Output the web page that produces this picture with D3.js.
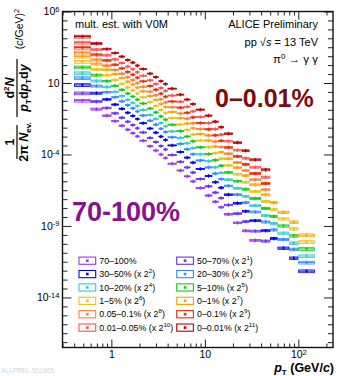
<!DOCTYPE html>
<html>
<head>
<meta charset="utf-8">
<script src="https://cdn.jsdelivr.net/npm/d3@7"></script>
<style>
  body { margin: 0; background: #fff; }
  text { font-family: "Liberation Sans", Arial, sans-serif; }
</style>
</head>
<body>
<div id="wrapper"></div>
<script>
// pT bin edges (GeV/c)
const ptEdges = [0.4, 0.6, 0.8, 1.0, 1.2, 1.4, 1.6, 1.8, 2.0, 2.4, 2.8, 3.2, 3.6, 4.0, 5.0, 6.0, 7.0, 8.0,
  10, 12, 14, 16, 20, 25, 30, 40, 50, 60, 80, 100, 150]

// relative systematic uncertainty per bin
const sysRel = [0.22, 0.16, 0.12, 0.1, 0.09, 0.08, 0.08, 0.08, 0.08, 0.08, 0.08, 0.08, 0.08, 0.08, 0.08,
  0.08, 0.09, 0.09, 0.1, 0.1, 0.11, 0.12, 0.13, 0.14, 0.15, 0.16, 0.17, 0.18, 0.2, 0.22]

// unscaled invariant yields, one array per V0M class
const yield_70_100 = [0.59, 0.149, 0.052, 0.0215, 0.0104, 5.5e-3, 3.1e-3, 1.85e-3, 9.2e-4, 3.8e-4, 1.9e-4, 1.0e-4,
  5.7e-5, 2.27e-5, 7.6e-6, 2.97e-6, 1.31e-6, 4.5e-7, 1.35e-7, 5.0e-8, 2.04e-8, 6.6e-9, 1.67e-9, 4.6e-10, 1.0e-10]
const yield_50_70 = [0.96, 0.251, 0.0895, 0.0379, 0.0187, 9.9e-3, 5.7e-3, 3.4e-3, 1.74e-3, 7.3e-4, 3.7e-4, 1.95e-4,
  1.12e-4, 4.6e-5, 1.55e-5, 6.2e-6, 2.74e-6, 9.6e-7, 2.96e-7, 1.09e-7, 4.5e-8, 1.47e-8, 3.7e-9, 1.02e-9, 2.2e-10, 4.4e-11]
const yield_30_50 = [1.82, 0.489, 0.178, 0.078, 0.0393, 0.021, 0.01245, 7.5e-3, 3.86e-3, 1.65e-3, 8.5e-4, 4.5e-4,
  2.6e-4, 1.08e-4, 3.7e-5, 1.51e-5, 6.8e-6, 2.45e-6, 7.8e-7, 2.88e-7, 1.19e-7, 3.9e-8, 9.7e-9, 2.69e-9, 5.9e-10,
  1.18e-10, 3.3e-11, 7.1e-12, 1.42e-12, 1.73e-13]
const yield_20_30 = [2.77, 0.766, 0.284, 0.127, 0.0653, 0.0352, 0.0212, 0.0128, 6.7e-3, 2.92e-3, 1.53e-3, 8.0e-4,
  4.7e-4, 2.0e-4, 7.0e-5, 2.87e-5, 1.31e-5, 4.8e-6, 1.56e-6, 5.8e-7, 2.39e-7, 7.96e-8, 1.96e-8, 5.4e-9, 1.2e-9,
  2.4e-10, 6.7e-11, 1.44e-11, 2.9e-12, 3.5e-13]
const yield_10_20 = [3.10, 0.871, 0.328, 0.150, 0.0778, 0.0423, 0.0258, 0.01556, 8.2e-3, 3.63e-3, 1.92e-3, 1.0e-3,
  5.9e-4, 2.57e-4, 9.1e-5, 3.77e-5, 1.73e-5, 6.4e-6, 2.13e-6, 7.9e-7, 3.27e-7, 1.09e-7, 2.69e-8, 7.4e-9, 1.66e-9,
  3.3e-10, 9.3e-11, 1.99e-11, 3.99e-12, 4.9e-13]
const yield_5_10 = [3.88, 1.12, 0.426, 0.199, 0.105, 0.0573, 0.0354, 0.0215, 0.01148, 5.14e-3, 2.75e-3, 1.44e-3,
  8.55e-4, 3.78e-4, 1.35e-4, 5.65e-5, 2.61e-5, 9.9e-6, 3.34e-6, 1.25e-6, 5.15e-7, 1.74e-7, 4.23e-8, 1.16e-8, 2.63e-9,
  5.25e-10, 1.48e-10, 3.16e-11, 6.4e-12, 7.8e-13]
const yield_1_5 = [4.75, 1.40, 0.541, 0.258, 0.138, 0.0759, 0.0476, 0.029, 0.01567, 7.11e-3, 3.85e-3, 2.02e-3,
  1.2e-3, 5.4e-4, 1.95e-4, 8.3e-5, 3.86e-5, 1.48e-5, 5.1e-6, 1.92e-6, 7.9e-7, 2.69e-7, 6.5e-8, 1.79e-8, 4.06e-9,
  8.1e-10, 2.29e-10, 4.9e-11, 9.9e-12, 1.2e-12]
const yield_0_1 = [5.6, 1.68, 0.659, 0.321, 0.173, 0.0962, 0.0612, 0.0373, 0.0204, 9.4e-3, 5.13e-3, 2.69e-3,
  1.62e-3, 7.4e-4, 2.69e-4, 1.15e-4, 5.4e-5, 2.11e-5, 7.4e-6, 2.81e-6, 1.15e-6, 3.95e-7, 9.5e-8, 2.61e-8, 5.97e-9,
  1.19e-9, 3.37e-10, 7.2e-11, 1.46e-11, 1.77e-12]
const yield_005_01 = [5.4, 1.63, 0.647, 0.320, 0.175, 0.0975, 0.0627, 0.0383, 0.0211, 9.8e-3, 5.4e-3, 2.83e-3,
  1.71e-3, 7.9e-4, 2.9e-4, 1.26e-4, 5.9e-5, 2.34e-5, 8.4e-6, 3.16e-6, 1.30e-6, 4.48e-7, 1.07e-7, 2.94e-8, 6.8e-9, 1.35e-9]
const yield_0_01 = [5.9, 1.85, 0.74, 0.372, 0.206, 0.116, 0.0752, 0.046, 0.0256, 0.01205, 6.7e-3, 3.52e-3,
  2.14e-3, 1.0e-3, 3.72e-4, 1.63e-4, 7.7e-5, 3.09e-5, 1.13e-5, 4.27e-6, 1.76e-6, 6.1e-7, 1.44e-7, 3.97e-8, 9.2e-9, 1.83e-9]
const yield_001_005 = [6.6, 2.10, 0.853, 0.438, 0.245, 0.138, 0.0912, 0.056, 0.0315, 0.015, 8.43e-3, 4.43e-3,
  2.7e-3, 1.29e-3, 4.83e-4, 2.13e-4, 1.02e-4, 4.14e-5, 1.54e-5, 5.83e-6, 2.4e-6, 8.4e-7, 1.97e-7, 5.4e-8, 1.26e-8, 2.52e-9]
const yield_0_001 = [8.7, 2.8, 1.16, 0.61, 0.345, 0.196, 0.131, 0.081, 0.046, 0.0222, 0.0126, 6.6e-3,
  4.1e-3, 1.98e-3, 7.5e-4, 3.4e-4, 1.63e-4, 6.7e-5, 2.55e-5, 9.7e-6, 4.0e-6, 1.4e-6, 3.3e-7, 9.0e-8, 2.1e-8, 4.2e-9]

const classLabels = ["70–100%", "50–70%", "30–50%", "20–30%", "10–20%", "5–10%", "1–5%", "0–1%",
  "0.05–0.1%", "0–0.1%", "0.01–0.05%", "0–0.01%"]
const scaleExp = [0, 1, 2, 3, 4, 5, 6, 7, 8, 9, 10, 11]
const classColors = ["#9933ff", "#6633ee", "#0000ee", "#3388ff", "#33cccc", "#11cc11", "#e8c31a", "#ffa200",
  "#ff7f3a", "#ee2a00", "#ff5050", "#c00000"]

const xMajorTicks = [1, 10, 100]
const xMinorTicks = [0.3, 0.4, 0.5, 0.6, 0.7, 0.8, 0.9, 2, 3, 4, 5, 6, 7, 8, 9, 20, 30, 40, 50, 60, 70, 80, 90, 200]
const yMajorExp = [6, 1, -4, -9, -14]

function drawSpectra() {
  const yields = [yield_70_100, yield_50_70, yield_30_50, yield_20_30, yield_10_20, yield_5_10, yield_1_5,
    yield_0_1, yield_005_01, yield_0_01, yield_001_005, yield_0_001]

  let dimensions = {
    width: 337,
    height: 376,
    margin: { top: 11.5, right: 4, bottom: 28.5, left: 62.5 },
  }
  dimensions.boundedWidth = dimensions.width - dimensions.margin.left - dimensions.margin.right
  dimensions.boundedHeight = dimensions.height - dimensions.margin.top - dimensions.margin.bottom

  const wrapper = d3.select("#wrapper")
    .append("svg")
      .attr("width", dimensions.width)
      .attr("height", dimensions.height)

  const bounds = wrapper.append("g")
      .attr("transform", `translate(${dimensions.margin.left},${dimensions.margin.top})`)

  const xScale = d3.scaleLog()
    .domain([0.3, 235])
    .range([0, dimensions.boundedWidth])

  const yScale = d3.scaleLog()
    .domain([Math.pow(10, -17.5), 1e6])
    .range([dimensions.boundedHeight, 0])

  bounds.append("clipPath").attr("id", "plotClip")
    .append("rect")
      .attr("width", dimensions.boundedWidth)
      .attr("height", dimensions.boundedHeight)

  // spectra
  const plot = bounds.append("g").attr("clip-path", "url(#plotClip)")
  yields.forEach((vals, i) => {
    const color = classColors[i]
    const f = Math.pow(2, scaleExp[i])
    const pts = vals.map((v, j) => ({ lo: ptEdges[j], hi: ptEdges[j + 1], y: v * f, s: sysRel[j] }))
    const g = plot.append("g")
    g.selectAll("rect.sys").data(pts).enter().append("rect")
      .attr("class", "sys")
      .attr("x", d => xScale(d.lo) + 0.4)
      .attr("width", d => xScale(d.hi) - xScale(d.lo) - 0.8)
      .attr("y", d => yScale(d.y * (1 + d.s)))
      .attr("height", d => yScale(d.y * (1 - d.s)) - yScale(d.y * (1 + d.s)))
      .attr("fill", "none")
      .attr("stroke", color)
      .attr("stroke-width", 0.8)
    g.selectAll("line.ex").data(pts).enter().append("line")
      .attr("x1", d => xScale(d.lo))
      .attr("x2", d => xScale(d.hi))
      .attr("y1", d => yScale(d.y))
      .attr("y2", d => yScale(d.y))
      .attr("stroke", color)
      .attr("stroke-width", 1)
    g.selectAll("line.ey").data(pts).enter().append("line")
      .attr("x1", d => xScale(Math.sqrt(d.lo * d.hi)))
      .attr("x2", d => xScale(Math.sqrt(d.lo * d.hi)))
      .attr("y1", d => yScale(d.y) - 1.8)
      .attr("y2", d => yScale(d.y) + 1.8)
      .attr("stroke", color)
      .attr("stroke-width", 1)
    g.selectAll("rect.m").data(pts).enter().append("rect")
      .attr("x", d => xScale(Math.sqrt(d.lo * d.hi)) - 1)
      .attr("y", d => yScale(d.y) - 1)
      .attr("width", 2)
      .attr("height", 2)
      .attr("fill", color)
  })

  // axes
  const tickColor = "#222"
  const styleAxis = ax => {
    ax.select(".domain").remove()
    ax.selectAll("line").attr("stroke", tickColor)
    ax.attr("font-family", "Liberation Sans, Arial, sans-serif").attr("font-size", 10.5)
    ax.selectAll("text").attr("fill", "#000")
  }
  const powLabel = (sel, base, exp) => {
    sel.text(null)
    sel.append("tspan").text(base)
    sel.append("tspan").attr("dy", "-0.45em").attr("font-size", "0.72em").text(exp)
  }

  const xAxis = bounds.append("g")
      .attr("transform", `translate(0,${dimensions.boundedHeight})`)
      .call(d3.axisBottom(xScale).tickValues(xMajorTicks).tickSizeInner(-8).tickSizeOuter(0).tickPadding(3)
        .tickFormat(d => d))
  styleAxis(xAxis)
  xAxis.selectAll(".tick text").each(function(d) {
    const e = Math.round(Math.log10(d))
    if (e >= 2) powLabel(d3.select(this), "10", e)
  })
  const xMinor = bounds.append("g")
      .attr("transform", `translate(0,${dimensions.boundedHeight})`)
      .call(d3.axisBottom(xScale).tickValues(xMinorTicks).tickSizeInner(-4).tickSizeOuter(0).tickFormat(""))
  styleAxis(xMinor)
  const xTop = bounds.append("g")
      .call(d3.axisTop(xScale).tickValues(xMajorTicks).tickSizeInner(-8).tickSizeOuter(0).tickFormat(""))
  styleAxis(xTop)
  const xTopMinor = bounds.append("g")
      .call(d3.axisTop(xScale).tickValues(xMinorTicks).tickSizeInner(-4).tickSizeOuter(0).tickFormat(""))
  styleAxis(xTopMinor)

  const yMajor = yMajorExp.map(e => Math.pow(10, e))
  const yMinor = d3.range(0, 38).map(k => 6 - k * 0.625)
    .filter(e => e >= -17.5 && !yMajorExp.some(m => Math.abs(m - e) < 1e-6))
    .map(e => Math.pow(10, e))

  const yAxis = bounds.append("g")
      .call(d3.axisLeft(yScale).tickValues(yMajor).tickSizeInner(-9).tickSizeOuter(0).tickPadding(3)
        .tickFormat(d => d))
  styleAxis(yAxis)
  yAxis.selectAll(".tick text").each(function(d) {
    const e = Math.round(Math.log10(d))
    const t = d3.select(this)
    if (e === 1) t.text("10")
    else powLabel(t, "10", e < 0 ? "-" + (-e) : e)
  })
  const yAxisMinor = bounds.append("g")
      .call(d3.axisLeft(yScale).tickValues(yMinor).tickSizeInner(-5).tickSizeOuter(0).tickFormat(""))
  styleAxis(yAxisMinor)
  const yRight = bounds.append("g")
      .attr("transform", `translate(${dimensions.boundedWidth},0)`)
      .call(d3.axisRight(yScale).tickValues(yMajor).tickSizeInner(-9).tickSizeOuter(0).tickFormat(""))
  styleAxis(yRight)
  const yRightMinor = bounds.append("g")
      .attr("transform", `translate(${dimensions.boundedWidth},0)`)
      .call(d3.axisRight(yScale).tickValues(yMinor).tickSizeInner(-5).tickSizeOuter(0).tickFormat(""))
  styleAxis(yRightMinor)

  bounds.append("rect")
      .attr("width", dimensions.boundedWidth)
      .attr("height", dimensions.boundedHeight)
      .attr("fill", "none")
      .attr("stroke", "#111")
      .attr("stroke-width", 1.4)

  // x axis title
  const xTitle = wrapper.append("text")
      .attr("x", 334)
      .attr("y", 372)
      .attr("text-anchor", "end")
      .attr("font-size", 12.5)
      .attr("font-weight", "bold")
  xTitle.append("tspan").attr("font-style", "italic").text("p")
  xTitle.append("tspan").attr("font-size", 8).attr("dy", 3).text("T")
  xTitle.append("tspan").attr("dy", -3).text(" (GeV/")
  xTitle.append("tspan").attr("font-style", "italic").text("c")
  xTitle.append("tspan").text(")")

  // y axis title, built in a rotated frame
  const yTitle = wrapper.append("g")
      .attr("transform", "translate(17,0) rotate(-90)")
      .attr("font-weight", "bold")
      .attr("font-size", 12.5)
  yTitle.append("line").attr("x1", -159).attr("x2", -125).attr("y1", 0).attr("y2", 0)
      .attr("stroke", "#000").attr("stroke-width", 1.2)
  yTitle.append("text").attr("x", -142).attr("y", -3.5).attr("text-anchor", "middle").text("1")
  const den1 = yTitle.append("text").attr("x", -142).attr("y", 11).attr("text-anchor", "middle")
  den1.append("tspan").text("2π ")
  den1.append("tspan").attr("font-style", "italic").text("N")
  den1.append("tspan").attr("font-size", 8).attr("dy", 2.5).text("ev.")
  yTitle.append("line").attr("x1", -117).attr("x2", -59).attr("y1", 0).attr("y2", 0)
      .attr("stroke", "#000").attr("stroke-width", 1.2)
  const num2 = yTitle.append("text").attr("x", -88).attr("y", -3.5).attr("text-anchor", "middle")
  num2.append("tspan").text("d")
  num2.append("tspan").attr("font-size", 8).attr("dy", -5).text("2")
  num2.append("tspan").attr("font-style", "italic").attr("dy", 5).text("N")
  const den2 = yTitle.append("text").attr("x", -88).attr("y", 11).attr("text-anchor", "middle")
  den2.append("tspan").attr("font-style", "italic").text("p")
  den2.append("tspan").attr("font-size", 8).attr("dy", 2.5).text("T")
  den2.append("tspan").attr("dy", -2.5).text("d")
  den2.append("tspan").attr("font-style", "italic").text("p")
  den2.append("tspan").attr("font-size", 8).attr("dy", 2.5).text("T")
  den2.append("tspan").attr("dy", -2.5).text("d")
  den2.append("tspan").attr("font-style", "italic").text("y")
  const unit = yTitle.append("text").attr("x", -29).attr("y", 6).attr("text-anchor", "middle")
      .attr("font-weight", "normal").attr("font-size", 10.5)
  unit.append("tspan").text("(")
  unit.append("tspan").attr("font-style", "italic").text("c")
  unit.append("tspan").text("/GeV)")
  unit.append("tspan").attr("font-size", 7.5).attr("dy", -4).text("2")

  // annotations
  wrapper.append("text").attr("x", 75).attr("y", 28).attr("font-size", 11).text("mult. est. with V0M")
  wrapper.append("text").attr("x", 318).attr("y", 28).attr("font-size", 11).attr("text-anchor", "end")
      .text("ALICE Preliminary")
  const energy = wrapper.append("text").attr("x", 318).attr("y", 46).attr("font-size", 11).attr("text-anchor", "end")
  energy.append("tspan").text("pp  √")
  energy.append("tspan").attr("font-style", "italic").text("s")
  energy.append("tspan").text(" = 13 TeV")
  const decay = wrapper.append("text").attr("x", 318).attr("y", 63).attr("font-size", 11.5).attr("text-anchor", "end")
      .attr("font-family", "Liberation Serif, serif")
  decay.append("tspan").text("π")
  decay.append("tspan").attr("font-size", 8).attr("dy", -4).text("0")
  decay.append("tspan").attr("dy", 4).text(" → γ γ")

  wrapper.append("text").attr("x", 215).attr("y", 107).attr("font-size", 25).attr("font-weight", "bold")
      .attr("fill", "#7f0a0a").text("0–0.01%")
  wrapper.append("text").attr("x", 72).attr("y", 221).attr("font-size", 27).attr("font-weight", "bold")
      .attr("fill", "#88118f").text("70-100%")

  wrapper.append("text").attr("x", 1).attr("y", 373).attr("font-size", 6.5).attr("fill", "#d4d4d4")
      .text("ALI-PREL-501665")

  // legend
  const legend = wrapper.append("g").attr("font-size", 8.8)
  classLabels.forEach((label, i) => {
    const row = Math.floor(i / 2)
    const col = i % 2
    const cy = 260.7 + row * 13.38
    const bx = col === 0 ? 79 : 176.7
    const item = legend.append("g")
    item.append("rect")
        .attr("x", bx).attr("y", cy - 3.6).attr("width", 16.7).attr("height", 7.2)
        .attr("fill", "none").attr("stroke", classColors[i]).attr("stroke-width", 1.1)
    item.append("rect")
        .attr("x", bx + 8.35 - 1.3).attr("y", cy - 1.3).attr("width", 2.6).attr("height", 2.6)
        .attr("fill", classColors[i])
    const t = item.append("text").attr("x", bx + 20.3).attr("y", cy + 3.2)
    t.append("tspan").text(label)
    if (scaleExp[i] > 0) {
      t.append("tspan").text(" (x 2")
      t.append("tspan").attr("font-size", 6.2).attr("dy", -4).text(scaleExp[i])
      t.append("tspan").attr("dy", 4).text(")")
    }
  })
}

drawSpectra()
</script>
</body>
</html>
